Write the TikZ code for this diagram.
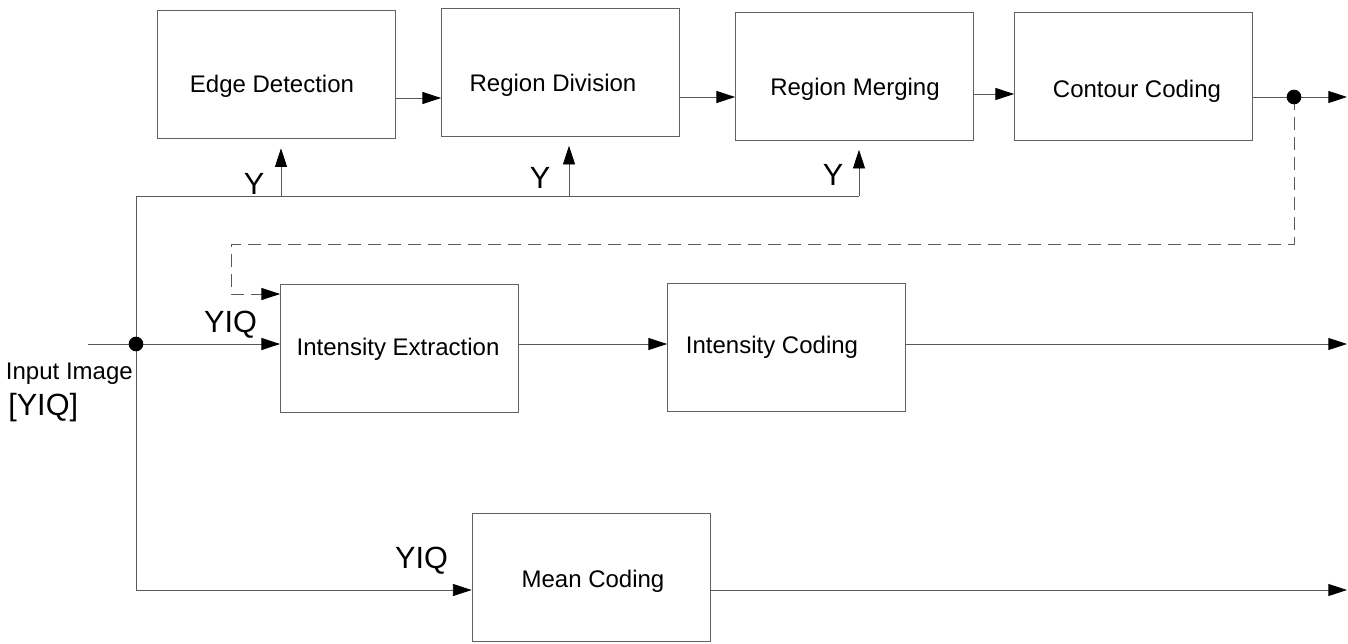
\documentclass[tikz,border=0pt]{standalone}
\usepackage{fontspec}
\setmainfont{Liberation Sans}
\usetikzlibrary{arrows.meta,calc}

\begin{document}
\begin{tikzpicture}[x=0.75pt,y=-0.75pt,
  box/.style={draw=black!62, line width=0.6pt, minimum width=178.5pt,
              minimum height=96pt, inner sep=0pt},
  boxtxt/.style={anchor=base, inner sep=0pt, font=\fontsize{18}{20}\selectfont},
  sig/.style={anchor=base, inner sep=0pt, font=\fontsize{23}{26}\selectfont},
  wire/.style={draw=black!65, line width=0.6pt},
  arr/.style={wire, -{Triangle[length=14pt,width=9pt,color=black,fill=black]}},
  dsh/.style={dash pattern=on 10pt off 5pt},
  tap/.style={shorten >=7pt}]

\useasboundingbox (0,0) rectangle (1348,643);

% processing blocks
\node[box] (ed) at (276,74.5)  {};
\node[box] (rd) at (560.5,72)  {};
\node[box] (rm) at (854.5,76)  {};
\node[box] (cc) at (1133.5,76.5) {};
\node[box] (ie) at (399.5,348.5) {};
\node[box] (ic) at (786.5,347) {};
\node[box] (mc) at (591,577) {};

% block captions
\node[boxtxt] (edt) at (272,92)  {Edge Detection};
\node[boxtxt] (rdt) at (553,91)  {Region Division};
\node[boxtxt] (rmt) at (855,95)  {Region Merging};
\node[boxtxt] (cct) at (1137,97) {Contour Coding};
\node[boxtxt] (iet) at (398,355) {Intensity Extraction};
\node[boxtxt] (ict) at (772,353) {Intensity Coding};
\node[boxtxt] (mct) at (593,587) {Mean Coding};

% signal labels
\node[sig] (y1) at (254,194) {Y};
\node[sig] (y2) at (540,188) {Y};
\node[sig] (y3) at (833,185) {Y};
\node[sig] (yiq1) at (230.5,332) {YIQ};
\node[sig] (yiq2) at (421.5,568) {YIQ};
\node[boxtxt, anchor=base east] (inlab) at (133,379) {Input Image};
\node[sig, anchor=base west] (inyiq) at (8,415) {[YIQ]};

% routing points
\coordinate (bus)  at (136,196);
\coordinate (din)  at (136,344);
\coordinate (inL)  at (88,344);
\coordinate (mrow) at (136,590);
\coordinate (t1)   at (281,196);
\coordinate (t2)   at (569,196);
\coordinate (t3)   at (859,196);
\coordinate (h1)   at (0,98);
\coordinate (h2)   at (0,97);
\coordinate (h3)   at (0,94);
\coordinate (dtop) at (1294,97);
\coordinate (dR)   at (1294,244);
\coordinate (dL)   at (231,294);
\coordinate (outT) at (1347,97);
\coordinate (outI) at (1347,344);
\coordinate (outM) at (1347,590);

% top chain
\draw[arr] (ed.east |- h1) -- (rd.west |- h1);
\draw[arr] (rd.east |- h2) -- (rm.west |- h2);
\draw[arr] (rm.east |- h3) -- (cc.west |- h3);
\draw[arr] (cc.east |- dtop) -- (outT);

% luminance bus
\draw[wire] (bus) -- (t3);
\draw[arr, tap] (t1) -- (t1 |- ed.south);
\draw[arr, tap] (t2) -- (t2 |- rd.south);
\draw[arr, tap] (t3) -- (t3 |- rm.south);

% input and intensity path
\draw[arr] (inL) -- (ie.west |- inL);
\draw[arr] (ie.east |- inL) -- (ic.west |- inL);
\draw[arr] (ic.east |- inL) -- (outI);

% mean path
\draw[arr] (bus) |- (mc.west |- mrow);
\draw[arr] (mc.east |- mrow) -- (outM);

% contour feedback
\draw[arr, dsh] (dtop) -- (dR) -| (dL) -- (ie.west |- dL);

% junction dots
\fill (dtop) circle[radius=5.5pt];
\fill (din) circle[radius=5.5pt];

\end{tikzpicture}
\end{document}
